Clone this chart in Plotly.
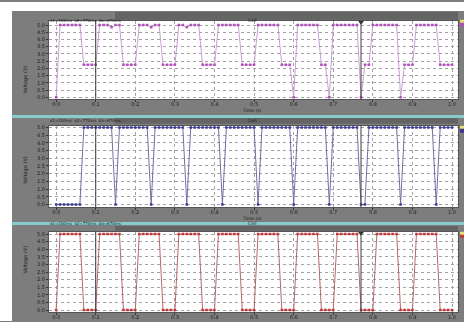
import plotly.graph_objects as go

# ---------------- data ----------------
time_s = [i / 100 for i in range(101)]

cell1_v = [0,
           5.0, 5.0, 5.0, 5.0, 5.0, 5.0, 2.25, 2.25, 2.25, 2.25,
           5.0, 5.0, 5.0, 4.85, 5.0, 5.0, 2.25, 2.25, 2.25, 2.25,
           5.0, 5.0, 5.0, 4.85, 5.0, 5.0, 2.25, 2.25, 2.25, 2.25,
           5.0, 5.0, 4.85, 5.0, 5.0, 5.0, 2.25, 2.25, 2.25, 2.25,
           5.0, 5.0, 5.0, 5.0, 5.0, 5.0, 2.25, 2.25, 2.25, 2.25,
           5.0, 5.0, 5.0, 5.0, 5.0, 5.0, 2.25, 2.25, 2.25, 0.0,
           5.0, 5.0, 5.0, 5.0, 5.0, 5.0, 2.25, 2.25, 0.0, 5.0,
           5.0, 5.0, 5.0, 5.0, 5.0, 5.0, 0.0, 2.25, 2.25, 5.0,
           5.0, 5.0, 5.0, 5.0, 5.0, 5.0, 0.0, 2.25, 2.25, 2.25,
           5.0, 5.0, 5.0, 5.0, 5.0, 5.0, 2.25, 2.25, 2.25, 2.25]

cell2_v = [0, 0, 0, 0, 0, 0, 0, 5.0, 5.0, 5.0, 5.0,
           5.0, 5.0, 5.0, 5.0, 0.0, 5.0, 5.0, 5.0, 5.0, 5.0,
           5.0, 5.0, 5.0, 0.0, 5.0, 5.0, 5.0, 5.0, 5.0, 5.0,
           5.0, 5.0, 0.0, 5.0, 5.0, 5.0, 5.0, 5.0, 5.0, 5.0,
           5.0, 0.0, 5.0, 5.0, 5.0, 5.0, 5.0, 5.0, 5.0, 5.0,
           0.0, 5.0, 5.0, 5.0, 5.0, 5.0, 5.0, 5.0, 5.0, 0.0,
           5.0, 5.0, 5.0, 5.0, 5.0, 5.0, 5.0, 5.0, 0.0, 5.0,
           5.0, 5.0, 5.0, 5.0, 5.0, 5.0, 0.0, 0.0, 5.0, 5.0,
           5.0, 5.0, 5.0, 5.0, 5.0, 5.0, 0.0, 5.0, 5.0, 5.0,
           5.0, 5.0, 5.0, 5.0, 5.0, 0.0, 5.0, 5.0, 5.0, 5.0]

cell3_v = [0,
           5.0, 5.0, 5.0, 5.0, 5.0, 5.0, 0, 0, 0, 0,
           5.0, 5.0, 5.0, 5.0, 5.0, 5.0, 0, 0, 0, 0,
           5.0, 5.0, 5.0, 5.0, 5.0, 5.0, 0, 0, 0, 0,
           5.0, 5.0, 5.0, 5.0, 5.0, 5.0, 0, 0, 0, 0,
           5.0, 5.0, 5.0, 5.0, 5.0, 5.0, 0, 0, 0, 0,
           5.0, 5.0, 5.0, 5.0, 5.0, 5.0, 0, 0, 0, 0,
           5.0, 5.0, 5.0, 5.0, 5.0, 5.0, 0, 0, 0, 0,
           5.0, 5.0, 5.0, 5.0, 5.0, 5.0, 0, 0, 0, 0,
           5.0, 5.0, 5.0, 5.0, 5.0, 5.0, 0, 0, 0, 0,
           5.0, 5.0, 5.0, 5.0, 5.0, 5.0, 0, 0, 0, 0]

cursor_times = [0.10, 0.77]
x_ticks = [0.0, 0.1, 0.2, 0.3, 0.4, 0.5, 0.6, 0.7, 0.8, 0.9, 1.0]
x_tick_labels = ["0.0", "0.1", "0.2", "0.3", "0.4", "0.5", "0.6", "0.7", "0.8", "0.9", "1.0"]
y_ticks = [0.0, 0.5, 1.0, 1.5, 2.0, 2.5, 3.0, 3.5, 4.0, 4.5, 5.0]
y_tick_labels = ["0.0", "0.5", "1.0", "1.5", "2.0", "2.5", "3.0", "3.5", "4.0", "4.5", "5.0"]
panel_title = "Cell"
cursor_text = "x1=100ms  x2=770ms  dx=670ms"
y_title = "Voltage (V)"
x_title = "Time (s)"

# ---------------- layout helpers ----------------
W, H = 464, 322
def px(x):
    return x / W
def py(y):
    return 1 - y / H

BG = "#7d7d7d"
FONT = "DejaVu Sans"
GRID = "#a2a2a2"

panels = [
    dict(vals=cell1_v, line="#c8a0d0", mark="#b050b8", top=19, bot=98, yr=[-0.12, 5.29],
         bar=(10, 18), xt=110, icon=(18, 25)),
    dict(vals=cell2_v, line="#7070a4", mark="#383890", top=125, bot=207, yr=[-0.17, 5.11],
         bar=(117, 123), xt=218.5, icon=(125, 132)),
    dict(vals=cell3_v, line="#b86868", mark="#c03838", top=232, bot=313, yr=[-0.13, 5.15],
         bar=(226, 231), xt=None, icon=(232, 238)),
]

fig = go.Figure()
shapes = []
annotations = []

X0, X1 = 49, 458
xr = [-0.018, 1.015]

for i, p in enumerate(panels):
    n = i + 1
    xa = "x" if n == 1 else f"x{n}"
    ya = "y" if n == 1 else f"y{n}"
    fig.add_trace(go.Scatter(
        x=time_s, y=p["vals"], mode="lines+markers",
        line=dict(color=p["line"], width=1),
        marker=dict(color=p["mark"], size=2.5, symbol="square"),
        xaxis=xa, yaxis=ya, showlegend=False, hoverinfo="skip"))
    if n != 2:
        fig.add_trace(go.Scatter(
            x=[cursor_times[1]], y=[p["yr"][1] - 0.1], mode="markers",
            marker=dict(color="#303030", size=5, symbol="triangle-down"),
            xaxis=xa, yaxis=ya, showlegend=False, hoverinfo="skip"))
    axx = dict(domain=[px(X0), px(X1)], range=xr, anchor=ya,
               tickvals=x_ticks, ticktext=x_tick_labels,
               showgrid=True, gridcolor=GRID, griddash="dot", gridwidth=1,
               zeroline=False, showline=True, linecolor="#555555", mirror=True,
               ticks="outside", ticklen=2, tickcolor="#333333", ticklabelstandoff=-2,
               tickfont=dict(size=5, color="#1a1a1a", family=FONT), fixedrange=True)
    axy = dict(domain=[py(p["bot"]), py(p["top"])], range=p["yr"], anchor=xa,
               tickvals=y_ticks, ticktext=y_tick_labels,
               showgrid=True, gridcolor=GRID, griddash="dot", gridwidth=1,
               zeroline=False, showline=True, linecolor="#555555", mirror=True,
               ticks="outside", ticklen=2, tickcolor="#333333",
               tickfont=dict(size=5, color="#1a1a1a", family=FONT), fixedrange=True)
    fig.update_layout({("xaxis" if n == 1 else f"xaxis{n}"): axx,
                       ("yaxis" if n == 1 else f"yaxis{n}"): axy})
    b0, b1 = p["bar"]
    shapes.append(dict(type="rect", xref="paper", yref="paper",
                       x0=px(115), x1=px(X1), y0=py(b1), y1=py(b0),
                       fillcolor="#646464", line=dict(width=0), layer="below"))
    annotations.append(dict(text=panel_title, xref="paper", yref="paper",
                            x=px(252), y=py((b0 + b1) / 2), showarrow=False,
                            font=dict(size=4.5, color="#1a1a1a", family=FONT)))
    annotations.append(dict(text=cursor_text, xref="paper", yref="paper",
                            x=px(48), y=py((b0 + b1) / 2), xanchor="left", showarrow=False,
                            font=dict(size=4, color="#1a1a1a", family=FONT)))
    annotations.append(dict(text=y_title, xref="paper", yref="paper", textangle=-90,
                            x=px(20), y=py((p["top"] + p["bot"]) / 2 + 4), showarrow=False,
                            font=dict(size=5, color="#1a1a1a", family=FONT)))
    if p["xt"]:
        annotations.append(dict(text=x_title, xref="paper", yref="paper",
                                x=px(252), y=py(p["xt"]), yanchor="middle",
                                showarrow=False,
                                font=dict(size=4.5, color="#1a1a1a", family=FONT)))
    for ct in cursor_times:
        shapes.append(dict(type="line", xref=xa, yref=f"{ya} domain",
                           x0=ct, x1=ct, y0=0, y1=1,
                           line=dict(color="#3a3a3a", width=1)))
    i0, i1 = p["icon"]
    shapes.append(dict(type="rect", xref="paper", yref="paper",
                       x0=px(460), x1=px(464), y0=py(i0 + 3), y1=py(i0),
                       fillcolor="#e8e070", line=dict(width=0)))
    shapes.append(dict(type="rect", xref="paper", yref="paper",
                       x0=px(460), x1=px(464), y0=py(i1), y1=py(i0 + 3),
                       fillcolor=p["mark"], line=dict(width=0)))

shapes.append(dict(type="rect", xref="paper", yref="paper", x0=0, x1=1,
                   y0=py(9), y1=1, fillcolor="white", line=dict(width=0), layer="below"))
shapes.append(dict(type="rect", xref="paper", yref="paper", x0=0, x1=px(12),
                   y0=0, y1=1, fillcolor="white", line=dict(width=0), layer="below"))
for sy in (114, 222):
    shapes.append(dict(type="rect", xref="paper", yref="paper", x0=px(12), x1=1,
                       y0=py(sy + 3), y1=py(sy), fillcolor="#86cccc",
                       line=dict(width=0), layer="below"))

fig.update_layout(
    width=W, height=H, margin=dict(l=0, r=0, t=0, b=0),
    paper_bgcolor=BG, plot_bgcolor="white",
    shapes=shapes, annotations=annotations,
    font=dict(family=FONT, size=5),
)

fig.write_html("out.html", config={"displayModeBar": False},
               post_script="document.body.style.margin='0';document.body.style.overflow='hidden';")
